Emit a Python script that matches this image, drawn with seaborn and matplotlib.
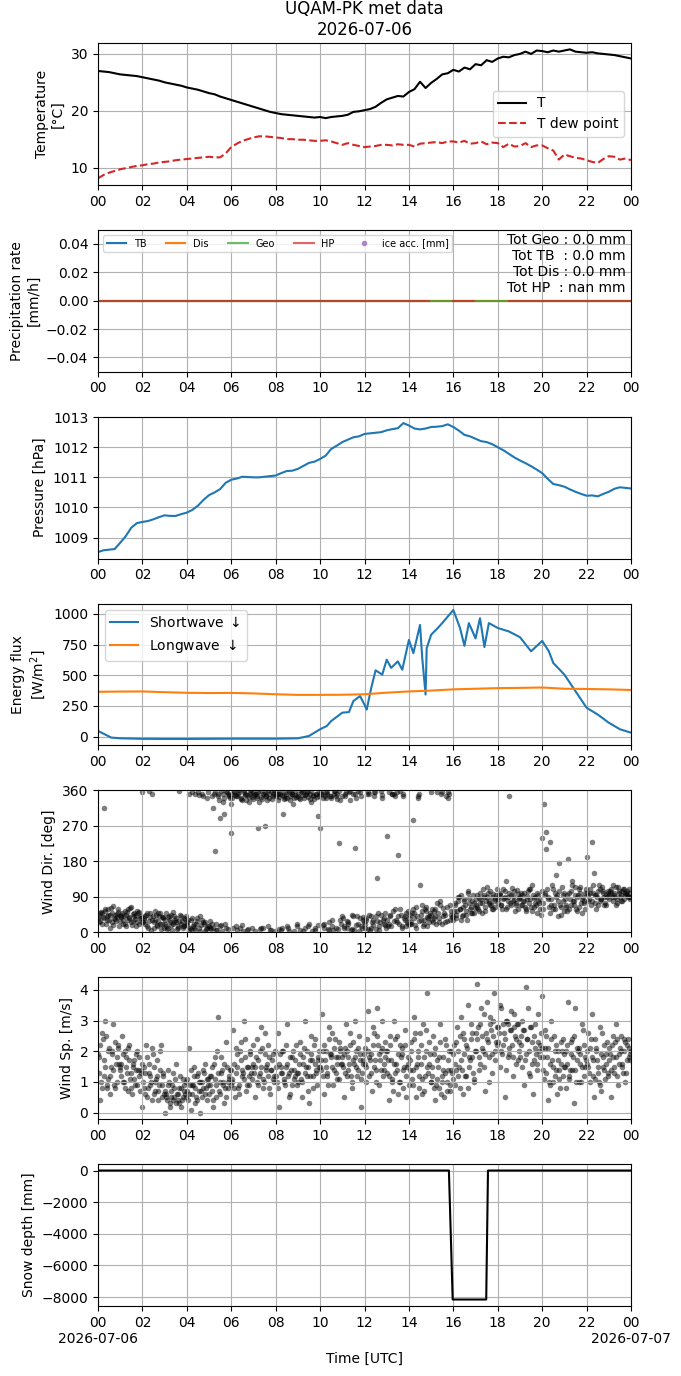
import numpy as np
import pandas as pd
import matplotlib
matplotlib.use("Agg")
import matplotlib.pyplot as plt
import matplotlib.dates as mdates
import matplotlib.ticker as mticker
import seaborn as sns

# ---------------- DATA ----------------
day0 = pd.Timestamp("2026-07-06 00:00")
day1 = pd.Timestamp("2026-07-07 00:00")

# temperature / dew point, every 15 min (hours 0..24)
temp_hours = [i * 0.25 for i in range(97)]
temp_T = [27.0, 26.9, 26.8, 26.6,
          26.4, 26.3, 26.2, 26.1,
          25.9, 25.7, 25.5, 25.3,
          25.0, 24.8, 24.6, 24.4,
          24.1, 23.9, 23.7, 23.4,
          23.1, 22.9, 22.5, 22.2,
          21.9, 21.6, 21.3, 21.0,
          20.7, 20.4, 20.1, 19.8,
          19.6, 19.4, 19.3, 19.2,
          19.1, 19.0, 18.9, 18.8,
          18.9, 18.7, 18.9, 19.0,
          19.1, 19.3, 19.8, 19.9,
          20.1, 20.3, 20.7, 21.4,
          22.0, 22.3, 22.6, 22.5,
          23.3, 23.8, 25.1, 24.0,
          24.9, 25.6, 26.4, 26.6,
          27.2, 26.9, 27.6, 27.3,
          28.2, 28.0, 28.9, 28.6,
          29.2, 29.5, 29.4, 29.8,
          30.0, 30.4, 30.0, 30.6,
          30.5, 30.3, 30.6, 30.4,
          30.6, 30.8, 30.4, 30.3,
          30.2, 30.3, 30.1, 30.0,
          29.9, 29.8, 29.6, 29.4,
          29.2]
temp_Td = [8.1, 8.7, 9.1, 9.4,
           9.7, 9.9, 10.1, 10.3,
           10.4, 10.6, 10.7, 10.9,
           11.0, 11.1, 11.3, 11.4,
           11.5, 11.6, 11.7, 11.8,
           11.9, 11.8, 11.8, 12.5,
           13.6, 14.2, 14.7, 15.0,
           15.3, 15.5, 15.5, 15.4,
           15.3, 15.2, 15.0, 15.0,
           14.9, 14.9, 14.8, 14.7,
           14.7, 14.8, 14.6, 14.3,
           14.0, 14.3, 14.0, 13.8,
           13.6, 13.7, 13.8, 14.0,
           14.0, 13.9, 14.1, 14.0,
           14.0, 13.7, 14.2, 14.3,
           14.4, 14.5, 14.3, 14.6,
           14.6, 14.4, 14.7, 14.2,
           14.3, 14.6, 14.1, 14.4,
           14.3, 13.6, 14.2, 13.7,
           13.8, 14.3, 13.6, 13.9,
           13.9, 13.4, 13.0, 11.4,
           12.3, 12.0, 11.7, 11.6,
           11.3, 11.0, 10.8, 11.5,
           12.0, 11.9, 11.4, 11.6,
           11.3]

# precipitation (5-min steps), all zero; HP missing in two gaps
precip_hours = [i * 5 / 60 for i in range(289)]
precip_TB = [0.0] * 289
precip_Dis = [0.0] * 289
precip_Geo = [0.0] * 289
precip_HP = [0.0] * 180 + [np.nan] * 12 + [0.0] * 12 + [np.nan] * 18 + [0.0] * 67
precip_totals = ["Tot Geo : 0.0 mm", "Tot TB  : 0.0 mm", "Tot Dis : 0.0 mm", "Tot HP  : nan mm"]

# pressure, every 15 min
pres_hPa = [1008.52, 1008.58, 1008.60, 1008.62,
            1008.83, 1009.05, 1009.33, 1009.48,
            1009.52, 1009.55, 1009.61, 1009.68,
            1009.74, 1009.72, 1009.72, 1009.78,
            1009.83, 1009.92, 1010.06, 1010.25,
            1010.41, 1010.50, 1010.61, 1010.82,
            1010.92, 1010.96, 1011.02, 1011.01,
            1011.00, 1011.00, 1011.02, 1011.04,
            1011.06, 1011.14, 1011.21, 1011.22,
            1011.28, 1011.38, 1011.48, 1011.52,
            1011.61, 1011.72, 1011.94, 1012.05,
            1012.17, 1012.25, 1012.33, 1012.36,
            1012.44, 1012.46, 1012.48, 1012.50,
            1012.56, 1012.60, 1012.63, 1012.80,
            1012.72, 1012.62, 1012.59, 1012.62,
            1012.67, 1012.68, 1012.70, 1012.76,
            1012.67, 1012.55, 1012.41, 1012.36,
            1012.28, 1012.20, 1012.17, 1012.10,
            1012.00, 1011.90, 1011.78, 1011.66,
            1011.56, 1011.47, 1011.37, 1011.26,
            1011.14, 1010.95, 1010.78, 1010.74,
            1010.69, 1010.60, 1010.52, 1010.45,
            1010.39, 1010.40, 1010.37, 1010.45,
            1010.52, 1010.62, 1010.67, 1010.65,
            1010.63]

# radiation
sw_hours = [0, 0.3, 0.6, 1, 2, 3, 4, 5, 6, 7, 8, 9, 9.5, 10, 10.3, 10.5, 11, 11.3, 11.5,
            11.8, 12, 12.1, 12.3, 12.5, 12.8, 13, 13.2, 13.5, 13.7, 14, 14.2, 14.5, 14.6,
            14.75, 14.8, 15, 15.3, 15.5, 16, 16.3, 16.5, 16.7, 17, 17.2, 17.4, 17.6, 18,
            18.5, 19, 19.5, 20, 20.3, 20.5, 21, 21.5, 22, 22.5, 23, 23.5, 24]
sw_vals = [46, 19, -8, -14, -18, -19, -19, -18, -17, -17, -17, -14, 5, 60, 86, 127, 195,
           200, 290, 330, 260, 220, 395, 540, 505, 627, 560, 613, 545, 788, 680, 910, 640,
           343, 720, 830, 885, 925, 1032, 885, 740, 925, 800, 965, 730, 925, 885, 857, 810,
           695, 780, 695, 600, 505, 370, 235, 180, 113, 60, 32]
lw_hours = list(range(25))
lw_vals = [365, 367, 368, 362, 357, 355, 356, 352, 345, 340, 340, 341, 345, 358, 368, 375,
           385, 390, 395, 397, 400, 390, 388, 385, 380]

# wind: three interleaved 5-minute sample sets
wind_hours_a = [i * 5 / 60 for i in range(289)]
wind_hours_b = [i * 5 / 60 + 1 / 36 for i in range(288)]
wind_hours_c = [i * 5 / 60 + 2 / 36 for i in range(288)]
wind_dir_a = [35, 48, 22, 314, 55, 40, 30, 62, 18, 45, 38, 52,
              28, 50, 42, 15, 60, 35, 25, 47, 33, 55, 20, 40,
              355, 30, 45, 10, 38, 350, 25, 55, 18, 42, 8, 35,
              22, 48, 12, 30, 5, 40, 26, 15, 358, 20, 10, 33,
              18, 350, 8, 36, 12, 22, 355, 4, 30, 345, 25, 10,
              15, 8, 314, 207, 20, 350, 290, 3, 340, 12, 352, 345,
              252, 10, 348, 5, 355, 340, 18, 360, 335, 8, 350, 342,
              355, 2, 340, 330, 12, 350, 270, 345, 358, 6, 338, 352,
              345, 350, 8, 355, 300, 340, 15, 358, 335, 350, 4, 342,
              352, 338, 360, 2, 348, 355, 20, 330, 345, 5, 350, 295,
              265, 350, 10, 340, 355, 25, 345, 5, 358, 350, 227, 30,
              345, 15, 355, 20, 335, 8, 352, 214, 40, 2, 345, 30,
              10, 35, 355, 5, 25, 345, 40, 138, 15, 358, 30, 50,
              244, 20, 45, 350, 352, 30, 197, 60, 15, 345, 40, 25,
              35, 20, 286, 50, 10, 345, 121, 55, 30, 65, 15, 40,
              45, 25, 60, 355, 35, 70, 20, 50, 345, 340, 30, 55,
              40, 75, 55, 90, 30, 65, 85, 45, 100, 60, 80, 50,
              70, 95, 55, 85, 110, 65, 90, 75, 105, 60, 80, 95,
              85, 100, 70, 110, 90, 65, 346, 95, 80, 105, 75, 60,
              90, 70, 100, 55, 85, 110, 65, 95, 75, 50, 80, 60,
              240, 326, 255, 90, 230, 70, 110, 60, 95, 175, 45, 80,
              100, 65, 185, 85, 120, 70, 95, 55, 110, 75, 90, 60,
              190, 80, 100, 230, 150, 95, 70, 110, 85, 105, 75, 90,
              95, 110, 80, 100, 70, 115, 90, 105, 85, 100, 95, 110,
              90]
wind_dir_b = [42, 28, 50, 36, 20, 58, 44, 25, 66, 33, 47, 15,
              38, 22, 55, 45, 30, 62, 18, 50, 40, 27, 52, 35,
              25, 40, 15, 358, 48, 32, 12, 44, 28, 50, 20, 38,
              30, 8, 42, 18, 52, 25, 35, 10, 45, 28, 15, 40,
              25, 5, 32, 15, 350, 28, 10, 40, 352, 20, 8, 356,
              28, 345, 12, 355, 5, 335, 18, 350, 300, 358, 8, 340,
              350, 355, 15, 345, 360, 338, 3, 352, 348, 330, 356, 10,
              348, 352, 265, 358, 342, 10, 355, 336, 350, 5, 345, 360,
              358, 335, 352, 12, 345, 350, 340, 2, 356, 325, 348, 20,
              345, 5, 355, 340, 352, 15, 338, 358, 348, 10, 342, 355,
              350, 340, 20, 355, 8, 345, 30, 352, 12, 338, 358, 22,
              35, 350, 10, 25, 358, 45, 5, 340, 20, 355, 15, 38,
              20, 352, 45, 12, 30, 355, 8, 50, 25, 348, 35, 18,
              30, 355, 15, 55, 345, 25, 42, 358, 10, 35, 50, 20,
              45, 25, 60, 18, 40, 350, 30, 70, 22, 55, 35, 48,
              30, 55, 40, 75, 25, 350, 62, 45, 28, 355, 70, 38,
              55, 35, 80, 60, 95, 45, 70, 30, 88, 65, 50, 75,
              85, 60, 100, 75, 90, 55, 115, 80, 70, 98, 65, 88,
              75, 95, 60, 88, 130, 80, 100, 70, 92, 55, 108, 85,
              70, 95, 80, 60, 105, 85, 120, 65, 90, 100, 75, 45,
              60, 100, 210, 85, 50, 120, 70, 90, 40, 105, 65, 95,
              85, 55, 100, 70, 130, 80, 60, 95, 115, 50, 80, 100,
              100, 85, 70, 120, 95, 60, 105, 80, 115, 90, 70, 100,
              85, 100, 120, 90, 75, 105, 95, 80, 110, 100, 90, 85]
wind_dir_c = [25, 52, 38, 60, 30, 45, 12, 50, 35, 28, 58, 40,
              45, 30, 20, 52, 38, 65, 28, 42, 15, 48, 35, 25,
              35, 20, 50, 28, 5, 40, 30, 15, 48, 22, 38, 10,
              15, 38, 25, 45, 20, 32, 8, 28, 40, 15, 35, 22,
              30, 12, 355, 20, 5, 35, 348, 18, 25, 2, 340, 15,
              10, 22, 352, 5, 345, 15, 358, 330, 20, 355, 348, 325,
              340, 358, 345, 352, 12, 335, 355, 348, 5, 342, 360, 338,
              350, 345, 355, 8, 338, 352, 345, 15, 340, 358, 350, 2,
              352, 342, 5, 348, 338, 355, 10, 345, 352, 340, 358, 15,
              340, 358, 348, 10, 355, 342, 350, 3, 338, 352, 18, 345,
              355, 18, 345, 352, 5, 340, 15, 358, 345, 8, 335, 40,
              10, 345, 28, 355, 5, 40, 350, 18, 358, 35, 12, 25,
              30, 8, 350, 42, 18, 355, 28, 5, 45, 340, 22, 12,
              15, 40, 350, 28, 60, 355, 20, 45, 352, 30, 15, 55,
              20, 50, 35, 65, 340, 28, 45, 15, 58, 38, 25, 355,
              60, 35, 20, 48, 80, 355, 40, 25, 65, 352, 45, 30,
              70, 45, 90, 60, 40, 80, 55, 105, 75, 48, 95, 62,
              65, 88, 75, 50, 95, 80, 100, 70, 90, 60, 85, 110,
              95, 70, 85, 105, 60, 90, 75, 112, 82, 68, 98, 88,
              100, 80, 65, 92, 75, 110, 55, 88, 70, 95, 85, 105,
              75, 95, 110, 65, 85, 60, 100, 145, 80, 70, 115, 55,
              70, 95, 60, 105, 80, 115, 90, 65, 100, 85, 75, 110,
              95, 110, 80, 100, 75, 90, 120, 85, 100, 70, 95, 105,
              105, 90, 95, 115, 85, 100, 80, 110, 95, 105, 90, 100]
wind_sp_a = [1.9, 0.4, 2.6, 1.2, 3.0, 0.9, 2.1, 1.5, 2.9, 0.8, 1.8, 2.2,
             1.5, 2.5, 1.0, 1.8, 0.7, 2.2, 1.3, 1.6, 0.9, 2.0, 1.2, 1.4,
             0.2, 1.5, 2.2, 0.8, 1.2, 2.1, 0.6, 1.0, 1.7, 0.9, 2.2, 1.3,
             0.0, 0.6, 1.4, 0.3, 0.9, 0.5, 1.6, 0.4, 0.8, 0.2, 1.1, 0.6,
             0.7, 2.1, 0.1, 0.9, 1.5, 0.5, 1.3, 0.0, 1.0, 0.8, 1.6, 0.4,
             0.6, 1.2, 0.2, 1.8, 0.5, 3.1, 1.0, 1.4, 0.3, 2.3, 0.8, 1.1,
             1.4, 2.7, 0.5, 1.9, 0.9, 2.3, 1.2, 3.0, 0.7, 1.5, 2.0, 1.1,
             1.6, 0.5, 2.4, 1.2, 2.8, 0.8, 1.9, 1.4, 2.2, 0.6, 1.7, 1.0,
             1.2, 2.6, 0.2, 1.5, 2.0, 0.9, 2.9, 1.3, 0.6, 1.8, 1.1, 2.2,
             1.0, 2.3, 0.5, 1.6, 3.0, 1.2, 0.3, 1.9, 0.8, 2.4, 1.4, 1.7,
             1.5, 3.2, 0.6, 2.0, 1.3, 2.8, 1.8, 0.9, 2.4, 1.6, 1.1, 2.1,
             1.8, 0.5, 2.9, 1.4, 2.2, 0.8, 1.7, 3.0, 1.2, 2.5, 0.2, 1.6,
             2.1, 1.0, 3.3, 1.7, 0.7, 2.6, 1.4, 3.4, 0.9, 2.0, 1.2, 2.3,
             1.3, 0.4, 2.5, 1.0, 3.0, 1.6, 0.6, 2.2, 1.9, 0.8, 2.7, 1.5,
             0.9, 2.3, 1.4, 3.1, 0.5, 1.8, 2.6, 1.1, 0.7, 2.0, 3.9, 1.6,
             1.0, 2.5, 0.4, 1.7, 0.8, 2.9, 1.2, 0.5, 2.2, 1.4, 0.9, 2.0,
             1.9, 0.9, 2.8, 1.5, 3.1, 0.6, 2.4, 1.2, 3.5, 1.7, 2.6, 1.0,
             2.6, 4.2, 1.4, 3.4, 2.0, 0.7, 3.6, 1.8, 2.9, 1.3, 3.9, 2.3,
             2.8, 1.5, 3.4, 2.2, 0.5, 3.0, 1.9, 2.7, 1.2, 3.2, 2.4, 1.7,
             1.8, 3.0, 0.9, 4.1, 2.4, 1.3, 2.8, 0.6, 2.1, 1.6, 3.2, 2.2,
             3.8, 1.1, 2.5, 0.4, 1.6, 3.0, 1.0, 2.0, 0.6, 1.4, 2.3, 1.2,
             1.9, 0.8, 3.6, 1.4, 2.4, 0.3, 3.4, 1.7, 2.1, 1.0, 2.7, 1.5,
             1.6, 2.6, 1.0, 3.2, 0.5, 2.0, 1.3, 2.8, 0.7, 1.8, 1.1, 2.3,
             1.7, 0.5, 2.5, 1.3, 2.9, 0.9, 2.1, 1.6, 2.4, 1.0, 2.2, 1.8,
             2.0]
wind_sp_b = [1.3, 2.2, 0.8, 1.7, 2.5, 1.1, 0.6, 2.0, 1.4, 2.3, 1.0, 1.6,
             1.2, 1.9, 0.8, 1.5, 2.1, 1.1, 0.6, 1.7, 1.4, 0.9, 1.8, 1.3,
             1.0, 0.6, 1.8, 1.3, 0.9, 0.4, 1.5, 1.1, 0.7, 2.0, 0.5, 1.2,
             0.7, 0.4, 1.0, 0.5, 1.3, 0.8, 0.3, 0.6, 1.2, 0.4, 0.9, 0.5,
             1.1, 0.6, 1.4, 0.9, 0.3, 1.2, 0.7, 1.0, 0.5, 1.3, 0.8, 1.1,
             0.9, 1.5, 0.4, 1.1, 2.0, 0.7, 1.3, 0.9, 1.6, 0.5, 1.0, 1.4,
             1.1, 0.8, 2.1, 1.5, 0.6, 1.7, 1.3, 2.4, 0.9, 1.2, 1.9, 1.5,
             1.3, 1.8, 0.9, 2.0, 1.5, 1.1, 2.6, 1.6, 0.8, 1.4, 1.9, 1.2,
             1.5, 0.8, 1.9, 1.3, 1.0, 2.2, 1.6, 0.5, 1.4, 2.0, 1.2, 0.9,
             1.3, 1.9, 1.0, 2.1, 1.5, 0.7, 1.7, 2.5, 1.2, 1.6, 0.9, 2.0,
             1.7, 1.2, 2.2, 1.5, 0.9, 1.9, 2.6, 1.4, 1.8, 1.1, 2.3, 1.6,
             1.5, 2.1, 1.2, 1.8, 2.6, 1.0, 1.6, 2.0, 1.4, 1.9, 1.1, 1.7,
             1.6, 2.4, 1.2, 1.9, 2.8, 1.5, 1.0, 2.2, 1.7, 3.0, 1.4, 1.8,
             2.0, 1.2, 1.7, 0.7, 2.4, 1.4, 1.9, 1.0, 2.1, 1.5, 0.5, 1.8,
             1.4, 2.0, 0.9, 2.6, 1.6, 1.2, 2.2, 0.6, 1.8, 2.7, 1.3, 1.9,
             1.5, 0.8, 2.1, 1.1, 1.8, 0.6, 1.4, 2.4, 1.0, 1.7, 0.7, 1.3,
             2.2, 1.4, 2.0, 0.8, 1.7, 2.6, 1.2, 2.1, 1.5, 2.9, 1.8, 1.1,
             2.0, 2.8, 1.6, 2.5, 3.2, 1.9, 2.4, 1.0, 2.7, 3.0, 1.7, 2.2,
             2.3, 3.5, 1.9, 2.6, 1.4, 2.9, 2.1, 3.3, 1.8, 2.5, 2.9, 2.0,
             2.5, 1.5, 2.7, 1.9, 3.4, 1.2, 2.3, 1.7, 2.9, 1.4, 2.0, 2.6,
             1.8, 2.7, 1.3, 2.1, 0.9, 1.7, 2.5, 1.4, 2.0, 1.1, 1.6, 2.4,
             1.5, 2.2, 1.1, 1.9, 1.4, 2.5, 1.0, 2.0, 1.6, 2.9, 1.2, 1.8,
             2.0, 1.3, 2.4, 1.7, 1.1, 2.1, 1.5, 0.9, 2.6, 1.4, 1.9, 1.2,
             2.1, 1.4, 1.8, 2.3, 1.2, 1.9, 2.5, 1.5, 2.0, 1.3, 2.4, 1.7]
wind_sp_c = [1.8, 1.0, 2.4, 1.5, 0.8, 2.0, 1.2, 1.9, 0.9, 1.6, 2.1, 1.4,
             1.6, 1.0, 2.0, 1.3, 1.7, 0.8, 1.5, 1.1, 1.9, 1.4, 0.7, 1.6,
             0.8, 1.3, 0.5, 1.6, 1.0, 1.9, 0.7, 1.2, 0.4, 1.4, 0.9, 0.6,
             0.5, 0.9, 0.2, 0.7, 0.4, 1.1, 0.6, 0.3, 0.8, 0.5, 0.7, 1.0,
             0.4, 0.9, 0.6, 1.2, 0.8, 0.4, 1.0, 0.7, 1.4, 0.6, 1.1, 0.9,
             1.2, 0.7, 1.6, 0.9, 1.3, 0.6, 1.8, 1.0, 0.8, 1.5, 1.2, 0.9,
             1.0, 1.6, 1.3, 0.8, 2.0, 1.4, 1.1, 1.8, 1.5, 0.9, 1.3, 2.2,
             1.5, 1.0, 1.7, 1.3, 2.1, 1.0, 1.5, 1.2, 1.8, 1.4, 1.1, 2.0,
             1.0, 1.6, 1.3, 2.0, 1.1, 1.5, 1.2, 1.8, 0.9, 1.4, 1.7, 1.3,
             1.6, 1.1, 1.8, 1.3, 2.0, 1.5, 1.2, 1.7, 2.2, 1.3, 1.8, 1.5,
             1.4, 2.0, 1.7, 1.2, 2.4, 1.9, 1.5, 2.1, 1.3, 1.8, 2.0, 1.6,
             1.9, 1.3, 2.0, 1.6, 1.2, 2.3, 1.8, 1.5, 2.1, 1.7, 1.3, 1.9,
             1.5, 2.0, 1.8, 1.3, 2.2, 1.7, 2.5, 1.9, 1.4, 2.1, 1.6, 2.0,
             1.7, 2.2, 1.1, 1.6, 1.3, 2.5, 1.0, 1.8, 1.4, 2.2, 1.2, 1.6,
             1.7, 1.1, 2.4, 1.5, 2.0, 0.8, 1.6, 2.9, 1.2, 1.5, 2.3, 1.0,
             1.2, 1.9, 0.9, 1.5, 2.3, 1.0, 1.8, 1.3, 0.7, 2.0, 1.4, 1.1,
             1.6, 2.3, 1.2, 2.5, 1.4, 1.9, 2.2, 0.8, 1.8, 2.4, 1.3, 2.0,
             2.4, 1.8, 2.9, 2.1, 1.5, 2.6, 2.3, 3.1, 1.9, 2.5, 2.0, 2.8,
             2.6, 2.0, 2.9, 2.4, 3.0, 1.8, 2.7, 2.2, 2.8, 1.6, 2.9, 2.3,
             2.2, 2.7, 1.7, 2.4, 2.0, 2.8, 1.6, 2.5, 1.9, 2.3, 1.8, 2.1,
             1.4, 2.1, 1.8, 1.0, 2.4, 1.5, 1.2, 2.2, 1.7, 0.8, 2.0, 1.5,
             2.0, 1.6, 1.2, 2.3, 1.8, 1.4, 2.1, 1.0, 1.9, 1.5, 2.2, 1.7,
             1.5, 2.1, 1.8, 1.2, 2.4, 1.7, 1.0, 1.9, 1.5, 2.2, 1.6, 1.3,
             1.9, 2.2, 1.5, 1.8, 2.4, 1.6, 2.0, 1.3, 2.3, 1.7, 2.1, 1.9]

# snow depth
snow_hours = [0, 15.8, 15.97, 17.48, 17.56, 24]
snow_mm = [0, 0, -8150, -8150, 0, 0]


def to_time(hours):
    return pd.to_datetime([day0 + pd.Timedelta(hours=h) for h in hours])


# ---------------- FIGURE ----------------
fig, axes = plt.subplots(7, 1, figsize=(6.81, 13.76), dpi=100)
fig.subplots_adjust(left=0.1439, right=0.9266, top=0.9688, bottom=0.0509, hspace=0.317)
ax1, ax2, ax3, ax4, ax5, ax6, ax7 = axes

# Temperature
tt = to_time(temp_hours)
sns.lineplot(x=tt, y=temp_T, ax=ax1, color="black", lw=1.5, label="T")
sns.lineplot(x=tt, y=temp_Td, ax=ax1, color="C3", lw=1.5, linestyle="--", label="T dew point")
ax1.set_yticks([10, 20, 30])
ax1.set_ylabel("Temperature\n[°C]")
ax1.legend(loc="center right", fontsize=10)
ax1.set_title("UQAM-PK met data\n2026-07-06", fontsize=12)

# Precipitation
tp = to_time(precip_hours)
sns.lineplot(x=tp, y=precip_TB, ax=ax2, color="C0", lw=1.5, label="TB")
sns.lineplot(x=tp, y=precip_Dis, ax=ax2, color="C1", lw=1.5, label="Dis")
sns.lineplot(x=tp, y=precip_Geo, ax=ax2, color="C2", lw=1.5, alpha=0.7, label="Geo")
hp = pd.DataFrame({"t": tp, "v": precip_HP})
hp["seg"] = hp["v"].isna().cumsum()
hp = hp.dropna()
sns.lineplot(data=hp, x="t", y="v", units="seg", estimator=None, ax=ax2,
             color="C3", lw=1.5, alpha=0.7, label="HP")
ice_handle, = ax2.plot([], [], "o", color="C4", alpha=0.7, ms=3, ls="")
ax2.set_ylim(-0.05, 0.05)
ax2.set_yticks([-0.04, -0.02, 0.0, 0.02, 0.04])
ax2.set_ylabel("Precipitation rate\n[mm/h]")
h, l = ax2.get_legend_handles_labels()
keep = {}
for hh, ll in zip(h, l):
    keep.setdefault(ll, hh)
keep["ice acc. [mm]"] = ice_handle
ax2.legend(list(keep.values()), list(keep.keys()), loc="upper left", ncol=5, fontsize=7)
ax2.text(0.99, 0.98, "\n".join(precip_totals), transform=ax2.transAxes,
         ha="right", va="top", fontsize=10)

# Pressure
sns.lineplot(x=tt, y=pres_hPa, ax=ax3, color="C0", lw=1.5)
ax3.set_ylabel("Pressure [hPa]")

# Energy flux
sns.lineplot(x=to_time(sw_hours), y=sw_vals, ax=ax4, color="C0", lw=1.5, label="Shortwave $\\downarrow$")
sns.lineplot(x=to_time(lw_hours), y=lw_vals, ax=ax4, color="C1", lw=1.5, label="Longwave $\\downarrow$")
ax4.set_yticks([0, 250, 500, 750, 1000])
ax4.set_ylabel("Energy flux\n[W/m$^2$]")
ax4.legend(loc="upper left", fontsize=10)

# Wind
wind = pd.DataFrame({
    "t": to_time(wind_hours_a + wind_hours_b + wind_hours_c),
    "dir": wind_dir_a + wind_dir_b + wind_dir_c,
    "sp": wind_sp_a + wind_sp_b + wind_sp_c,
})
sns.scatterplot(data=wind, x="t", y="dir", ax=ax5, color="black", alpha=0.5, s=16, linewidth=0)
ax5.set_ylim(0, 360)
ax5.set_yticks([0, 90, 180, 270, 360])
ax5.set_ylabel("Wind Dir. [deg]")

sns.scatterplot(data=wind, x="t", y="sp", ax=ax6, color="black", alpha=0.5, s=16, linewidth=0)
ax6.set_yticks([0, 1, 2, 3, 4])
ax6.set_ylabel("Wind Sp. [m/s]")

# Snow depth
sns.lineplot(x=to_time(snow_hours), y=snow_mm, ax=ax7, color="black", lw=1.5)
ax7.set_yticks([0, -2000, -4000, -6000, -8000])
ax7.set_ylabel("Snow depth [mm]")
ax7.set_xlabel("Time [UTC]")


def bottom_fmt(x, pos=None):
    d = mdates.num2date(x)
    if d.hour == 0:
        return d.strftime("%H\n%Y-%m-%d")
    return d.strftime("%H")


for ax in axes:
    ax.set_xlim(day0, day1)
    ax.xaxis.set_major_locator(mdates.HourLocator(byhour=range(0, 24, 2)))
    ax.xaxis.set_major_formatter(mdates.DateFormatter("%H"))
    ax.grid(True)
    if ax is not ax7:
        ax.set_xlabel("")
ax7.xaxis.set_major_formatter(mticker.FuncFormatter(bottom_fmt))

fig.savefig("out.png", dpi=100)
